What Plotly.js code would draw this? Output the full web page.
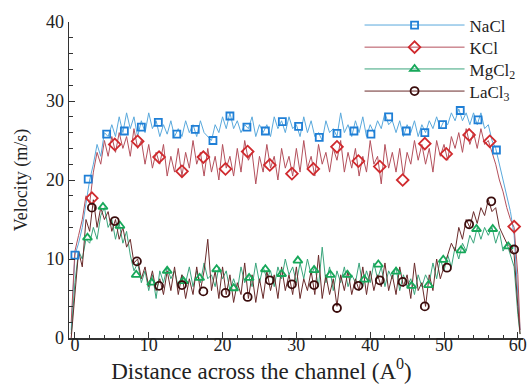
<!DOCTYPE html>
<html><head><meta charset="utf-8">
<script src="https://cdn.plot.ly/plotly-3.0.1.min.js"></script>
<style>html,body{margin:0;padding:0;background:#fff}#chart{width:530px;height:385px}</style>
</head><body><div id="chart"></div>
<script>
// Distance across the channel (Å)
const distance = [
 -0.5, 0, 0.5, 1, 1.5, 2, 2.5, 3, 3.5, 4,
 4.5, 5, 5.5, 6, 6.5, 7, 7.5, 8, 8.5, 9,
 9.5, 10, 10.5, 11, 11.5, 12, 12.5, 13, 13.5, 14,
 14.5, 15, 15.5, 16, 16.5, 17, 17.5, 18, 18.5, 19,
 19.5, 20, 20.5, 21, 21.5, 22, 22.5, 23, 23.5, 24,
 24.5, 25, 25.5, 26, 26.5, 27, 27.5, 28, 28.5, 29,
 29.5, 30, 30.5, 31, 31.5, 32, 32.5, 33, 33.5, 34,
 34.5, 35, 35.5, 36, 36.5, 37, 37.5, 38, 38.5, 39,
 39.5, 40, 40.5, 41, 41.5, 42, 42.5, 43, 43.5, 44,
 44.5, 45, 45.5, 46, 46.5, 47, 47.5, 48, 48.5, 49,
 49.5, 50, 50.5, 51, 51.5, 52, 52.5, 53, 53.5, 54,
 54.5, 55, 55.5, 56, 56.5, 57, 57.5, 58, 58.5, 59,
 59.5, 60, 60.3
];
const naclVel = [
 1, 10.5, 12, 14, 17, 20, 22, 24.5, 23, 26,
 25.5, 27, 25.5, 28, 26, 28.5, 26.5, 28, 25.5, 27.5,
 26, 28.5, 26.5, 27.5, 25.5, 27, 25.8, 27.5, 25.5, 26.5,
 25.5, 27.5, 26, 27, 25.5, 27.5, 26, 25.5, 25, 27,
 26, 28, 26.5, 28.5, 26.5, 27.5, 26, 27, 26.5, 28,
 25.5, 27, 26, 27, 25.5, 28, 26.5, 27.5, 26, 28,
 26.5, 27, 25.5, 28, 26, 27.5, 25.5, 26, 25, 27.5,
 26, 26.5, 25.5, 28.5, 26, 27, 25.5, 27.5, 26, 28,
 25.5, 27, 26, 27.5, 26.5, 28.5, 27, 27.5, 26, 27.5,
 25.5, 27, 26, 27.5, 25.5, 27, 26, 27.5, 26.5, 28,
 26.5, 27.5, 27, 28.5, 27.5, 29, 27.5, 28.5, 27, 28.5,
 27, 28.5, 26.5, 27, 25, 24, 22, 20, 18, 16,
 13, 5, 1
];
const kclVel = [
 2, 11, 13, 15, 18, 17, 21, 23.5, 22, 25,
 23, 25.5, 23.5, 26, 24, 25.5, 23, 26.5, 24, 25,
 22, 24.5, 21.5, 23.5, 22, 24.5, 20.5, 23, 21, 24,
 20.5, 23.5, 21.5, 25, 22, 23.5, 20.5, 24, 21, 23,
 20, 24.5, 21.5, 23, 20.5, 24, 21, 25, 22.5, 23.5,
 19.5, 23, 21, 24.5, 21.5, 23, 20, 24, 21.5, 23,
 20.5, 24, 21, 25, 21.5, 23, 20.5, 24.5, 22, 23.5,
 21, 24, 22.5, 25, 21, 23.5, 21.5, 24, 20.5, 23,
 21, 25, 22, 23, 19.5, 24.5, 21.5, 23.5, 21, 24,
 20.5, 23.5, 22, 25, 22.5, 24.5, 22, 24, 21, 25,
 23, 24.5, 22.5, 25.5, 24, 26, 23.5, 26.5, 24.5, 26,
 24, 26.5, 24.5, 25, 23.5, 22, 20, 18.5, 16.5, 15,
 14, 8, 1
];
const mgcl2Vel = [
 0.5, 7, 11, 10, 12.5, 12, 14, 12.5, 15.5, 16.5,
 14, 15, 12.5, 14.5, 12, 13.5, 10.5, 8.5, 9.5, 7,
 8.5, 6, 8, 5, 8.5, 7, 9, 7.5, 8.5, 6.5,
 8, 7, 9, 6.5, 8.5, 7, 9.5, 7.5, 8, 6.5,
 9, 7.5, 8.5, 6, 7.5, 6, 9, 7, 8, 6.5,
 9.5, 7, 9, 7.5, 8.5, 6.5, 9, 7.5, 10, 8,
 9, 7, 9.5, 7.5, 10, 8, 9, 6.5, 11.5, 7,
 9, 6, 8.5, 7, 9, 6.5, 8, 7, 9.5, 6.5,
 8.5, 7, 9.5, 7.5, 9, 6.5, 8.5, 7.5, 9, 6,
 8, 6.5, 7.5, 5.5, 8, 6.5, 8, 7, 9.5, 7.5,
 10, 8.5, 10.5, 9, 11.5, 10, 12, 11, 13, 12,
 14, 12.5, 14, 13, 14, 12, 13.5, 11, 12, 10.5,
 9, 3, 0.5
];
const lacl3Vel = [
 0, 5, 11, 9, 15, 13.5, 17.5, 14, 16.5, 15,
 16, 13.5, 15, 12.5, 14, 11.5, 12.5, 9.5, 10, 7.5,
 9, 6.5, 8.5, 6, 7.5, 5.5, 8.5, 6, 9, 5.5,
 8, 5, 7.5, 5.5, 9, 6, 8.5, 12.5, 6, 8.5,
 5, 9, 5.5, 8, 4.5, 7, 5.5, 9.5, 5, 8,
 4.5, 7.5, 5, 8.5, 6, 8, 5, 9, 6, 8,
 5.5, 9, 5, 7.5, 6, 8.5, 5.5, 10.5, 5, 8,
 5.5, 7.5, 4, 8, 6, 8.5, 5.5, 7.5, 6, 9,
 5.5, 8.5, 6, 8, 6.5, 9.5, 6, 8, 5.5, 9,
 6.5, 8, 5, 9.5, 6, 7, 4, 8, 6, 10,
 7.5, 9, 10.5, 12, 11, 14, 12.5, 15, 14, 16,
 14.5, 16.5, 15.5, 17.5, 16, 16.5, 14, 13, 12, 11.5,
 10.5, 4, 0.5
];
// marker samples
const naclMx = [0, 1.8, 4.3, 6.7, 9.0, 11.3, 13.8, 16.3, 18.7, 21.0, 23.3, 25.8, 28.1, 30.3, 33.1, 35.5, 37.8, 40.1, 42.5, 44.9, 47.4, 49.8, 52.2, 54.6, 57.1];
const naclMy = [10.5, 20.1, 25.8, 26.2, 26.7, 27.3, 25.8, 26.4, 25.0, 28.1, 26.7, 26.2, 27.4, 26.8, 25.4, 25.9, 26.2, 25.8, 28.0, 26.2, 26.0, 27.0, 28.8, 27.6, 23.8];
const kclMx = [2.3, 5.4, 8.5, 11.4, 14.5, 17.4, 20.4, 23.4, 26.4, 29.4, 32.3, 35.5, 38.4, 41.3, 44.4, 47.4, 50.3, 53.4, 56.2, 59.5];
const kclMy = [17.7, 24.5, 24.9, 22.9, 21.1, 22.9, 21.4, 23.6, 21.9, 20.8, 21.4, 24.2, 22.4, 21.7, 20.0, 24.6, 23.3, 25.7, 24.9, 14.1];
const mgcl2Mx = [1.7, 3.8, 6.1, 8.3, 10.4, 12.5, 14.7, 16.9, 19.2, 21.5, 23.6, 25.8, 28.0, 30.2, 32.4, 34.6, 36.9, 39.2, 41.1, 43.5, 45.6, 47.9, 49.9, 52.3, 54.4, 56.6, 58.7];
const mgcl2My = [12.7, 16.6, 14.2, 8.0, 7.0, 8.5, 7.2, 7.6, 8.7, 6.3, 7.6, 8.7, 8.1, 9.8, 8.6, 8.0, 8.0, 7.4, 9.3, 8.4, 6.6, 6.7, 9.9, 11.1, 13.8, 13.8, 11.6];
const lacl3Mx = [2.3, 5.4, 8.4, 11.4, 14.5, 17.4, 20.4, 23.4, 26.4, 29.4, 32.4, 35.5, 38.4, 41.3, 44.4, 47.4, 50.4, 53.4, 56.4, 59.5];
const lacl3My = [16.5, 14.8, 9.7, 6.6, 6.7, 5.9, 5.7, 5.2, 7.3, 6.8, 6.7, 3.8, 6.6, 7.3, 7.1, 4.0, 8.9, 14.4, 17.3, 11.2];

const names = ['NaCl', 'KCl', 'MgCl<sub>2</sub>', 'LaCl<sub>3</sub>'];
const series = [
  {y: naclVel, mx: naclMx, my: naclMy, line: '#5aa9dc', mk: '#1f7fd6', sym: 'square-open', size: 7},
  {y: kclVel, mx: kclMx, my: kclMy, line: '#b4505c', mk: '#d02a2e', sym: 'diamond-open', size: 9},
  {y: mgcl2Vel, mx: mgcl2Mx, my: mgcl2My, line: '#3aa57c', mk: '#17a85a', sym: 'triangle-up-open', size: 8},
  {y: lacl3Vel, mx: lacl3Mx, my: lacl3My, line: '#6a2b2b', mk: '#3a0c0c', sym: 'circle-open', size: 8}
];
const legendIds = ['legend', 'legend2', 'legend3', 'legend4'];
const traces = [];
series.forEach((s, i) => {
  traces.push({x: distance, y: s.y, mode: 'lines', line: {color: s.line, width: 1}, showlegend: false, hoverinfo: 'skip'});
});
series.forEach((s, i) => {
  traces.push({x: s.mx, y: s.my, mode: 'markers', showlegend: false,
    marker: {symbol: s.sym, size: s.size, color: s.mk, line: {color: s.mk, width: 1.8}}});
});
series.forEach((s, i) => {
  traces.push({x: [null], y: [null], mode: 'lines+markers', name: names[i], legend: legendIds[i],
    line: {color: s.line, width: 1},
    marker: {symbol: s.sym, size: s.size, color: s.mk, line: {color: s.mk, width: 1.8}}});
});
const FAM = 'Liberation Serif';
const axFont = {family: FAM, size: 18, color: '#222'};
const legendRowsY = [0.989, 0.919, 0.850, 0.780];
const layout = {
  width: 530, height: 385,
  margin: {l: 69, r: 7, t: 22, b: 47, autoexpand: false},
  paper_bgcolor: '#fff', plot_bgcolor: '#fff',
  font: {family: FAM, color: '#222'},
  xaxis: {
    range: [-0.8, 60.7], dtick: 10, tick0: 0,
    ticks: 'inside', ticklen: 6, tickwidth: 1, tickcolor: '#333',
    minor: {dtick: 2, ticks: 'inside', ticklen: 3.5, tickcolor: '#333'},
    showline: true, linecolor: '#333', linewidth: 1.5, showgrid: false, zeroline: false,
    tickfont: axFont, ticklabelstandoff: -10,
    title: {text: 'Distance across the channel (A<sup>0</sup>)' + '&nbsp;'.repeat(12), font: {family: FAM, size: 23}, standoff: 8}
  },
  yaxis: {
    range: [0, 40], dtick: 10, tick0: 0,
    ticks: 'inside', ticklen: 6, tickwidth: 1, tickcolor: '#333',
    minor: {dtick: 2, ticks: 'inside', ticklen: 3.5, tickcolor: '#333'},
    showline: true, linecolor: '#333', linewidth: 1.5, showgrid: false, zeroline: false,
    tickfont: axFont,
    title: {text: 'Velocity (m/s)', font: {family: FAM, size: 18}, standoff: 13}
  }
};
legendIds.forEach((id, i) => {
  layout[id] = {
    x: 0.64, y: legendRowsY[i], xanchor: 'left', yanchor: 'middle',
    bgcolor: 'rgba(0,0,0,0)', borderwidth: 0,
    font: {family: FAM, size: 17, color: '#222'},
    itemwidth: 100
  };
});
Plotly.newPlot('chart', traces, layout, {displayModeBar: false, staticPlot: true});
</script>
</body></html>
